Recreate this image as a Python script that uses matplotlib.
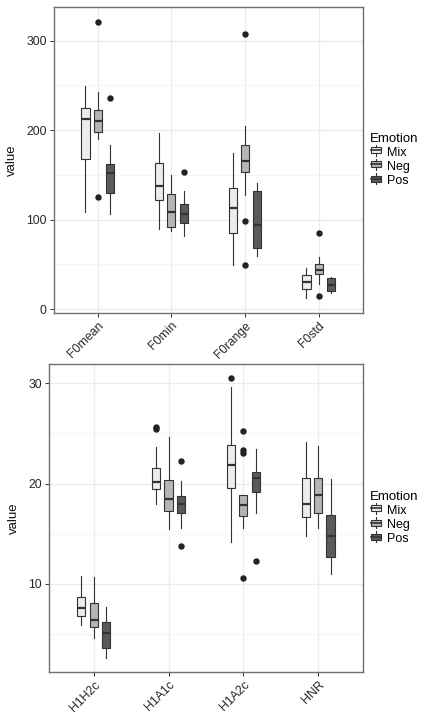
import matplotlib
matplotlib.use("Agg")
import matplotlib.pyplot as plt
from matplotlib.legend_handler import HandlerBase
from matplotlib.patches import Rectangle
from matplotlib.lines import Line2D

plt.rcParams['font.family'] = ['Liberation Sans', 'DejaVu Sans']

emotions = ['Mix', 'Neg', 'Pos']
fills = {'Mix': '#ececec', 'Neg': '#b5b5b5', 'Pos': '#5a5a5a'}

# top panel: F0 measures  (whislo, q1, med, q3, whishi)
top_vars = ['F0mean', 'F0min', 'F0range', 'F0std']
top_stats = {
    'Mix': [(109, 168, 213, 225, 249), (90, 122, 138, 163, 197),
            (49, 85, 113, 135, 174), (12, 23, 30, 38, 46)],
    'Neg': [(190, 198, 210, 222, 243), (87, 92, 109, 129, 150),
            (128, 153, 166, 183, 205), (28, 39, 44, 51, 58)],
    'Pos': [(106, 130, 152, 162, 183), (82, 96, 106, 118, 132),
            (59, 68, 94, 132, 141), (18, 20, 27, 35, 36)],
}
top_fliers = {
    'Mix': [[], [], [], []],
    'Neg': [[321, 125], [], [308, 99, 49], [85, 15]],
    'Pos': [[236], [153], [], []],
}

# bottom panel: spectral measures
bot_vars = ['H1H2c', 'H1A1c', 'H1A2c', 'HNR']
bot_stats = {
    'Mix': [(5.9, 6.8, 7.56, 8.7, 10.8), (17.98, 19.44, 20.14, 21.53, 23.6),
            (14.2, 19.6, 21.83, 23.88, 29.6), (14.8, 16.66, 17.95, 20.57, 24.12)],
    'Neg': [(4.62, 5.7, 6.34, 8.13, 10.7), (15.46, 17.28, 18.51, 20.34, 24.6),
            (15.52, 16.76, 17.88, 18.81, 18.81), (15.56, 17.11, 18.81, 20.57, 23.75)],
    'Pos': [(2.56, 3.55, 5.08, 6.21, 7.73), (15.56, 17.11, 17.98, 18.78, 20.3),
            (17.11, 19.17, 20.57, 21.2, 23.42), (11.01, 12.64, 14.73, 16.86, 20.44)],
}
bot_fliers = {
    'Mix': [[], [25.67, 25.44], [30.49], []],
    'Neg': [[], [], [25.27, 23.35, 23.02, 10.62], []],
    'Pos': [[], [22.26, 13.73], [12.28], []],
}


class BoxKey(HandlerBase):
    def create_artists(self, legend, orig, xd, yd, w, h, fs, trans):
        cx = xd + w / 2
        bw = w * 0.85
        r = Rectangle((cx - bw / 2, yd + h * 0.2), bw, h * 0.6,
                      facecolor=orig.get_facecolor(), edgecolor='#333333',
                      lw=0.8, transform=trans)
        m = Line2D([cx - bw / 2, cx + bw / 2], [yd + h / 2] * 2, color='#333333', lw=1.2, transform=trans)
        w1 = Line2D([cx, cx], [yd - h * 0.05, yd + h * 0.2], color='#333333', lw=0.8, transform=trans)
        w2 = Line2D([cx, cx], [yd + h * 0.8, yd + h * 1.05], color='#333333', lw=0.8, transform=trans)
        return [r, m, w1, w2]


def draw_panel(ax, names, stats, fliers, ylim, yticks, minor):
    offsets = [-1 / 6, 0, 1 / 6]
    for k, emo in enumerate(emotions):
        bxs = []
        for i, s in enumerate(stats[emo]):
            lo, q1, med, q3, hi = s
            bxs.append(dict(whislo=lo, q1=q1, med=med, q3=q3, whishi=hi,
                            fliers=fliers[emo][i]))
        ax.bxp(bxs, positions=[i + 1 + offsets[k] for i in range(len(names))],
               widths=0.11, patch_artist=True, showcaps=False,
               boxprops=dict(facecolor=fills[emo], edgecolor='#333333', lw=0.8),
               whiskerprops=dict(color='#333333', lw=0.8),
               medianprops=dict(color='#333333', lw=1.6),
               flierprops=dict(marker='o', markersize=3.6, markerfacecolor='#222222',
                               markeredgecolor='#222222'),
               manage_ticks=False, zorder=3)
    ax.set_xlim(0.4, len(names) + 0.6)
    ax.set_ylim(*ylim)
    ax.set_yticks(yticks)
    ax.set_yticks(minor, minor=True)
    ax.set_xticks(range(1, len(names) + 1))
    ax.set_xticklabels(names, rotation=45, ha='right', rotation_mode='anchor')
    ax.grid(True, which='major', color='#ebebeb', lw=0.9, zorder=0)
    ax.grid(True, which='minor', axis='y', color='#f4f4f4', lw=0.6, zorder=0)
    ax.set_axisbelow(True)
    ax.tick_params(which='major', length=3, color='#333333', labelsize=8.8,
                   labelcolor='#262626', width=0.7, pad=2)
    ax.tick_params(which='minor', length=0)
    for sp in ax.spines.values():
        sp.set_color('#707070')
        sp.set_linewidth(1.0)
    ax.set_ylabel('value', fontsize=9.5, color='#111111', labelpad=6)
    handles = [Rectangle((0, 0), 1, 1, facecolor=fills[e]) for e in emotions]
    leg = ax.legend(handles, emotions, title='Emotion', loc='center left',
                    bbox_to_anchor=(1.0, 0.5), frameon=False, fontsize=9,
                    title_fontsize=9.5, handler_map={Rectangle: BoxKey()},
                    handlelength=0.95, handleheight=0.85, handletextpad=0.45,
                    labelspacing=0.15, borderaxespad=0.35, borderpad=0.2)
    leg._legend_box.align = 'left'


fig = plt.figure(figsize=(4.25, 7.14), dpi=100)
ax1 = fig.add_axes([0.126, 0.562, 0.728, 0.428])
ax2 = fig.add_axes([0.115, 0.0588, 0.739, 0.431])

draw_panel(ax1, top_vars, top_stats, top_fliers, (-4, 337.5),
           [0, 100, 200, 300], [50, 150, 250])
draw_panel(ax2, bot_vars, bot_stats, bot_fliers, (1.2, 31.9),
           [10, 20, 30], [5, 15, 25])

fig.savefig('out.png', dpi=100)
